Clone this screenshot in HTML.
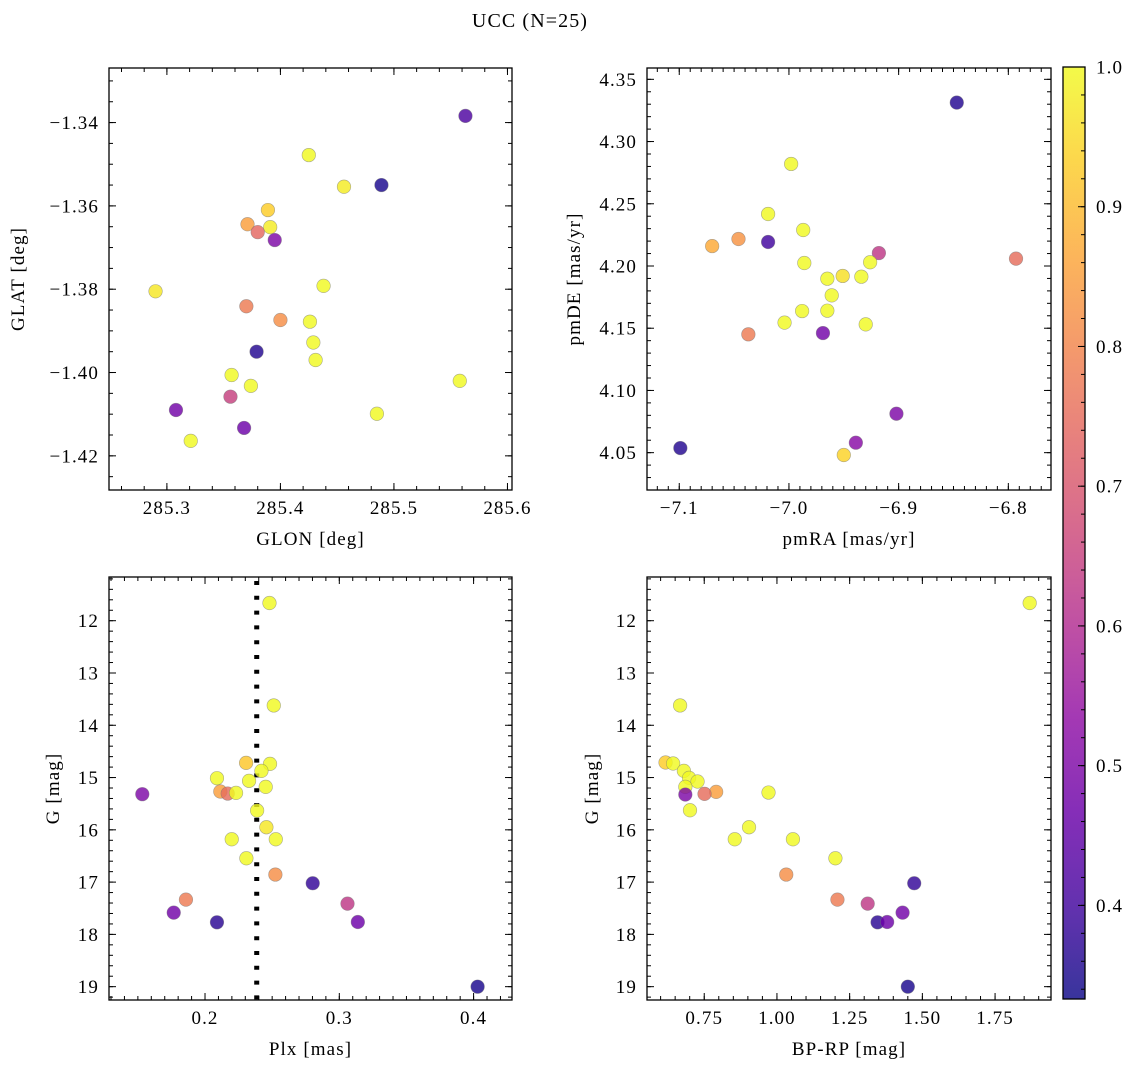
<!DOCTYPE html>
<html><head><meta charset="utf-8">
<style>
html,body{margin:0;padding:0;background:#fff;}
svg{display:block;font-family:"Liberation Serif","DejaVu Serif",serif;}
svg text{letter-spacing:1.1px;}
</style></head>
<body>
<svg id="fig" width="1136" height="1067" viewBox="0 0 1136 1067" xmlns="http://www.w3.org/2000/svg">
<text x="530" y="27" font-size="20" text-anchor="middle">UCC (N=25)</text>
</svg>
<script>
// ---- Panel 1: GLON vs GLAT ----
const glon = [285.563,285.425,285.456,285.489,285.389,285.371,285.391,285.380,285.395,285.290,285.438,285.370,285.400,285.426,285.429,285.379,285.431,285.357,285.558,285.374,285.356,285.308,285.485,285.368,285.321];
const glat = [-1.3384,-1.3478,-1.3554,-1.3550,-1.3610,-1.3644,-1.3651,-1.3663,-1.3682,-1.3805,-1.3792,-1.3841,-1.3874,-1.3878,-1.3928,-1.3950,-1.3970,-1.4006,-1.4020,-1.4032,-1.4058,-1.4090,-1.4099,-1.4133,-1.4164];
const prob1 = [0.42,1.0,0.98,0.35,0.93,0.85,0.98,0.74,0.50,0.97,1.0,0.78,0.82,1.0,1.0,0.36,1.0,1.0,1.0,1.0,0.65,0.48,1.0,0.47,1.0];
// ---- Panel 2: pmRA vs pmDE ----
const pmra = [-6.847,-6.998,-7.019,-6.987,-7.070,-7.046,-7.019,-6.918,-6.793,-6.986,-6.926,-6.965,-6.951,-6.934,-6.961,-6.988,-6.965,-7.004,-6.930,-6.969,-7.037,-6.902,-6.939,-6.950,-7.099];
const pmde = [4.3313,4.282,4.2418,4.2289,4.216,4.2217,4.2193,4.2104,4.2059,4.2024,4.203,4.1898,4.192,4.1914,4.1764,4.1638,4.1641,4.1545,4.1531,4.1461,4.1451,4.0813,4.058,4.0481,4.0537];
const prob2 = [0.36,1.0,1.0,1.0,0.87,0.83,0.40,0.63,0.75,1.0,1.0,1.0,0.96,1.0,1.0,1.0,1.0,1.0,1.0,0.48,0.78,0.50,0.52,0.94,0.36];
// ---- Panel 3: Plx vs G ----
const plx = [0.2480,0.2512,0.2306,0.2484,0.2420,0.2089,0.2328,0.2452,0.2114,0.2169,0.2231,0.1533,0.2388,0.2457,0.2199,0.2527,0.2308,0.2524,0.2802,0.1858,0.3061,0.1767,0.2089,0.3138,0.4030];
const gmag3 = [11.662,13.621,14.719,14.738,14.872,15.012,15.063,15.178,15.267,15.306,15.293,15.318,15.631,15.950,16.180,16.180,16.544,16.856,17.022,17.335,17.412,17.584,17.769,17.763,19.0];
const prob3 = [1.0,1.0,0.92,1.0,1.0,1.0,1.0,1.0,0.85,0.75,1.0,0.50,1.0,0.97,1.0,1.0,1.0,0.82,0.38,0.78,0.63,0.48,0.37,0.47,0.35];
const plxLine = [0.2385];
// ---- Panel 4: BP-RP vs G ----
const bprp = [1.869,0.667,0.617,0.643,0.680,0.698,0.727,0.685,0.791,0.751,0.685,0.971,0.701,0.904,0.855,1.055,1.201,1.032,1.472,1.208,1.312,1.432,1.346,1.379,1.450];
const gmag4 = [11.662,13.621,14.712,14.731,14.872,15.006,15.076,15.178,15.274,15.312,15.325,15.287,15.625,15.950,16.180,16.180,16.544,16.856,17.022,17.335,17.412,17.584,17.769,17.763,19.0];
const prob4 = [1.0,1.0,0.93,1.0,1.0,1.0,1.0,1.0,0.85,0.75,0.50,1.0,1.0,1.0,1.0,1.0,1.0,0.82,0.38,0.78,0.63,0.48,0.37,0.47,0.35];
// ---- Tick labels ----
const ticks1x = [285.3,285.4,285.5,285.6];
const ticks1y = [-1.34,-1.36,-1.38,-1.40,-1.42];
const ticks2x = [-7.1,-7.0,-6.9,-6.8];
const ticks2y = [4.05,4.10,4.15,4.20,4.25,4.30,4.35];
const ticks3x = [0.2,0.3,0.4];
const ticksG = [12,13,14,15,16,17,18,19];
const ticks4x = [0.75,1.00,1.25,1.50,1.75];
const cbTicks = [0.4,0.5,0.6,0.7,0.8,0.9,1.0];
const cbMin = 0.333, cbMax = 1.0;

const NS = "http://www.w3.org/2000/svg";
const svg = document.getElementById('fig');
const FS = 19;
function mk(tag, attrs, parent){
  const e = document.createElementNS(NS, tag);
  for (const k in attrs) e.setAttribute(k, attrs[k]);
  (parent||svg).appendChild(e);
  return e;
}
const plasma = [[13,8,135],[65,4,157],[106,0,168],[143,13,164],[177,42,144],[204,71,120],[225,100,98],[242,132,75],[252,166,54],[252,206,37],[240,249,33]];
function cmap(t){
  t = Math.max(0, Math.min(1, t));
  const f = t*10, i = Math.min(9, Math.floor(f)), r = f - i;
  const a = plasma[i], b = plasma[i+1];
  return 'rgb(' + [0,1,2].map(k => Math.round(a[k]+(b[k]-a[k])*r)).join(',') + ')';
}
function fmt(v, d){ return (v<0?'\u2212':'') + Math.abs(v).toFixed(d); }

function panel(c){
  const g = mk('g', {});
  
  
  const X = v => c.L + (v - c.xd[0])/(c.xd[1]-c.xd[0])*(c.R - c.L);
  const Y = v => c.T + (v - c.yd[0])/(c.yd[1]-c.yd[0])*(c.B - c.T);
  const tg = mk('g', {stroke:'#000','stroke-width':1}, g);
  
  
  const xlo = Math.min(...c.xd), xhi = Math.max(...c.xd);
  for (let k = Math.ceil(xlo/c.xm - 1e-6); k*c.xm <= xhi + 1e-9; k++){
    const x = X(k*c.xm);
    mk('line', {x1:x, x2:x, y1:c.B, y2:c.B-4}, tg);
    mk('line', {x1:x, x2:x, y1:c.T, y2:c.T+4}, tg);
  }
  const ylo = Math.min(...c.yd), yhi = Math.max(...c.yd);
  for (let k = Math.ceil(ylo/c.ym - 1e-6); k*c.ym <= yhi + 1e-9; k++){
    const y = Y(k*c.ym);
    mk('line', {x1:c.L, x2:c.L+4, y1:y, y2:y}, tg);
    mk('line', {x1:c.R, x2:c.R-4, y1:y, y2:y}, tg);
  }
  c.xt.forEach(v => {
    const x = X(v);
    mk('line', {x1:x, x2:x, y1:c.B, y2:c.B-7}, tg);
    mk('line', {x1:x, x2:x, y1:c.T, y2:c.T+7}, tg);
    const t = mk('text', {x:x, y:c.B+24, 'font-size':FS, 'text-anchor':'middle'}, g);
    t.textContent = fmt(v, c.xdec);
    
    
  });
  c.yt.forEach(v => {
    const y = Y(v);
    mk('line', {x1:c.L, x2:c.L+7, y1:y, y2:y}, tg);
    mk('line', {x1:c.R, x2:c.R-7, y1:y, y2:y}, tg);
    const t = mk('text', {x:c.L-10, y:y+6.5, 'font-size':FS, 'text-anchor':'end'}, g);
    t.textContent = fmt(v, c.ydec);
    
    
  });
  if (c.vline){
    c.vline.forEach(v => {
      const l = mk('line', {x1:X(v), x2:X(v), y1:c.T+4, y2:c.B, stroke:'#000','stroke-width':5,'stroke-dasharray':'4 10.8'}, g);
      
      
    });
  }
  const pg = mk('g', {}, g);
  
  
  c.xs.forEach((xv, i) => {
    const p = mk('circle', {cx:X(xv), cy:Y(c.ys[i]), r:6.8, fill:cmap((c.ps[i]-cbMin)/(cbMax-cbMin)), 'fill-opacity':0.82, stroke:'#777', 'stroke-opacity':0.6, 'stroke-width':0.6}, pg);
    
    
  });
  const fr = mk('rect', {x:c.L, y:c.T, width:c.R-c.L, height:c.B-c.T, fill:'none', stroke:'#000','stroke-width':1.3}, g);
  
  
  const xl = mk('text', {x:(c.L+c.R)/2, y:c.B+55, 'font-size':FS, 'text-anchor':'middle'}, g);
  xl.textContent = c.xlabel;
  
  
  const yc = (c.T+c.B)/2;
  const yl = mk('text', {x:c.ylx, y:yc, 'font-size':FS, 'text-anchor':'middle', transform:'rotate(-90 '+c.ylx+' '+yc+')'}, g);
  yl.textContent = c.ylabel;
  
  
}

panel({name:'glon-glat-panel', L:109, R:512, T:68, B:490, xd:[285.249,285.604], yd:[-1.3269,-1.4282], xm:0.02, ym:0.005, xt:ticks1x, yt:ticks1y, xdec:1, ydec:2, xs:glon, ys:glat, ps:prob1, xlabel:'GLON [deg]', ylabel:'GLAT [deg]', ylx:24});
panel({name:'pm-panel', L:647, R:1051, T:68, B:490, xd:[-7.1294,-6.7611], yd:[4.3591,4.0200], xm:0.01, ym:0.01, xt:ticks2x, yt:ticks2y, xdec:1, ydec:2, xs:pmra, ys:pmde, ps:prob2, xlabel:'pmRA [mas/yr]', ylabel:'pmDE [mas/yr]', ylx:580});
panel({name:'plx-g-panel', L:109, R:512, T:577, B:1000, xd:[0.1285,0.4286], yd:[11.164,19.255], xm:0.01, ym:0.2, xt:ticks3x, yt:ticksG, xdec:1, ydec:0, xs:plx, ys:gmag3, ps:prob3, vline:plxLine, xlabel:'Plx [mas]', ylabel:'G [mag]', ylx:59});
panel({name:'cmd-panel', L:647, R:1051, T:577, B:1000, xd:[0.5532,1.9423], yd:[11.164,19.255], xm:0.05, ym:0.2, xt:ticks4x, yt:ticksG, xdec:2, ydec:0, xs:bprp, ys:gmag4, ps:prob4, xlabel:'BP-RP [mag]', ylabel:'G [mag]', ylx:598});

// ---- Colorbar ----
(function(){
  const L=1063, R=1085, T=67, B=999;
  const CY = v => B - (v - cbMin)/(cbMax - cbMin)*(B - T);
  const cb = mk('g', {});
  
  
  const defs = mk('defs', {}, cb);
  const lg = mk('linearGradient', {id:'cbg', x1:0, y1:1, x2:0, y2:0}, defs);
  for (let i=0;i<=20;i++){
    const t=i/20;
    mk('stop', {offset:t, 'stop-color':cmap(t), 'stop-opacity':0.82}, lg);
  }
  const r = mk('rect', {x:L, y:T, width:R-L, height:B-T, fill:'url(#cbg)', stroke:'#000', 'stroke-width':1.3}, cb);
  
  
  for (let k = Math.ceil(cbMin/0.02 - 1e-6); k*0.02 <= cbMax + 1e-9; k++){
    const y = CY(k*0.02);
    mk('line', {x1:R, x2:R-4, y1:y, y2:y, stroke:'#000','stroke-width':1}, cb);
  }
  cbTicks.forEach(v => {
    const y = CY(v);
    mk('line', {x1:R, x2:R-7, y1:y, y2:y, stroke:'#000','stroke-width':1}, cb);
    const t = mk('text', {x:R+11, y:y+6.5, 'font-size':FS}, cb);
    t.textContent = v.toFixed(1);
    
    
  });
})();
</script>
</body></html>
